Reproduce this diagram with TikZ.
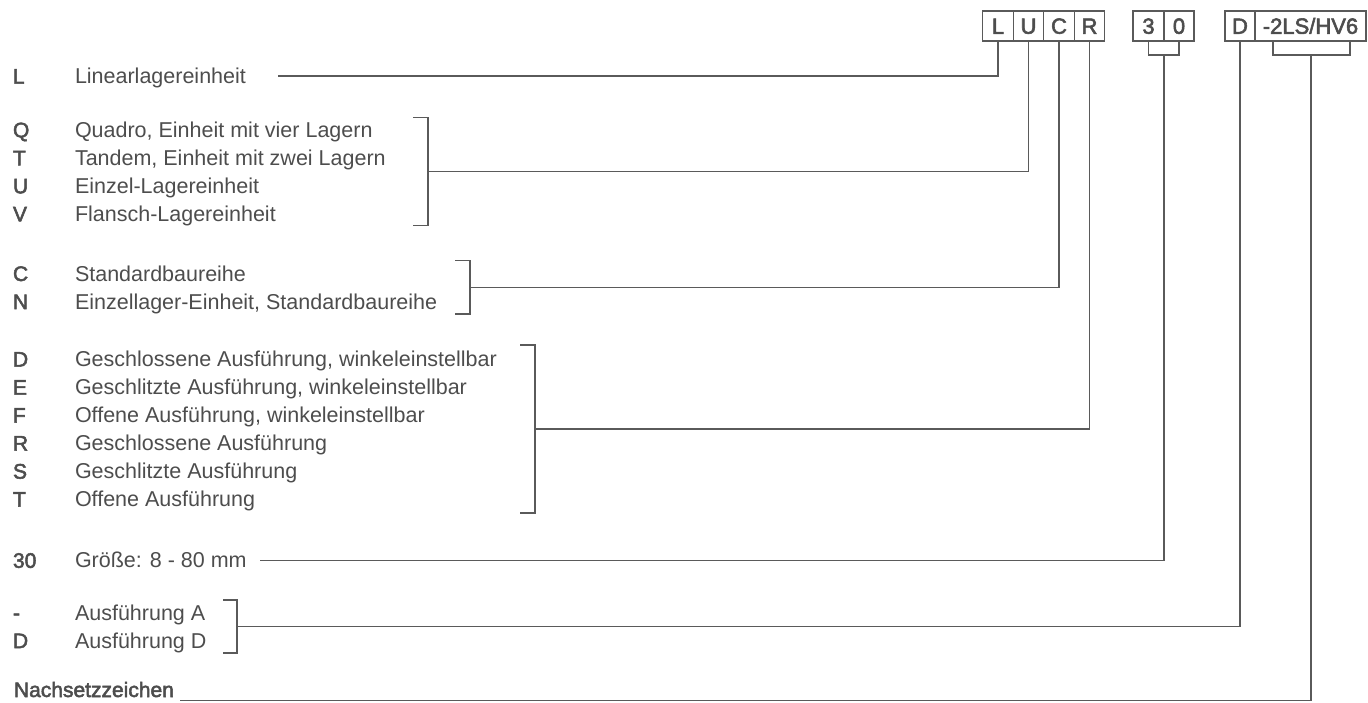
\documentclass[tikz,border=0pt]{standalone}
\usepackage{fontspec}
\setmainfont{Liberation Sans}
\newfontfamily\medfont{Liberation Sans}[FakeBold=2.5]
\usetikzlibrary{calc}
\definecolor{txt}{HTML}{4D4D4D}
\definecolor{ln}{HTML}{5A5A5A}
\begin{document}
\begin{tikzpicture}[x=1pt,y=-1pt,
  every node/.style={inner sep=0pt, outer sep=0pt, text=txt},
  code/.style={anchor=base west, font=\fontsize{21}{21}\selectfont\medfont},
  desc/.style={anchor=base west, font=\fontsize{21.5}{21.5}\selectfont},
  cell/.style={draw=ln, line width=1.3pt, minimum height=30pt, text height=15.5pt, text depth=0pt, font=\fontsize{22}{22}\selectfont\medfont},
  conn/.style={draw=ln, line width=1.5pt},
  brk/.style={draw=ln, line width=1.5pt}]
\useasboundingbox (0,0) rectangle (1368,702);

% ---- code boxes
\node[cell, minimum width=30.5pt] (cL) at (998,26) {L};
\node[cell, minimum width=30.5pt] (cU) at (1028.5,26) {U};
\node[cell, minimum width=30.5pt] (cC) at (1059,26) {C};
\node[cell, minimum width=30.5pt] (cR) at (1089.5,26) {R};
\node[cell, minimum width=31pt] (c3) at (1148.5,26) {3};
\node[cell, minimum width=30pt] (c0) at (1179,26) {0};
\node[cell, minimum width=30pt] (cD) at (1240,26) {D};
\node[cell, minimum width=111pt] (cX) at (1310.5,26) {-2LS/HV6};

% ---- left text
\node[code] (kL) at (13,83.6) {L};
\node[desc] (tL) at (75,83.6) {Linearlagereinheit};

\node[code] (kQ) at (13,137.3) {Q};
\node[desc] (tQ) at (75,137.3) {Quadro, Einheit mit vier Lagern};
\node[code] (kT) at (13,165.3) {T};
\node[desc] (tT) at (75,165.3) {Tandem, Einheit mit zwei Lagern};
\node[code] (kU) at (13,193.3) {U};
\node[desc] (tU) at (75,193.3) {Einzel-Lagereinheit};
\node[code] (kV) at (13,221.3) {V};
\node[desc] (tV) at (75,221.3) {Flansch-Lagereinheit};

\node[code] (kC) at (13,281) {C};
\node[desc] (tC) at (75,281) {Standardbaureihe};
\node[code] (kN) at (13,309) {N};
\node[desc] (tN) at (75,309) {Einzellager-Einheit, Standardbaureihe};

\node[code] (kD) at (13,366.6) {D};
\node[desc] (tD) at (75,366.6) {Geschlossene Ausführung, winkeleinstellbar};
\node[code] (kE) at (13,394.6) {E};
\node[desc] (tE) at (75,394.6) {Geschlitzte Ausführung, winkeleinstellbar};
\node[code] (kF) at (13,422.6) {F};
\node[desc] (tF) at (75,422.6) {Offene Ausführung, winkeleinstellbar};
\node[code] (kR) at (13,450.6) {R};
\node[desc] (tR) at (75,450.6) {Geschlossene Ausführung};
\node[code] (kS) at (13,478.6) {S};
\node[desc] (tS) at (75,478.6) {Geschlitzte Ausführung};
\node[code] (kT2) at (13,506.6) {T};
\node[desc] (tT2) at (75,506.6) {Offene Ausführung};

\node[code] (k30) at (13,567.8) {30};
\node[desc] (t30) at (75,567.8) {Größe: 8 - 80 mm};

\node[code] (kA) at (13,620.1) {-};
\node[desc] (tA) at (75,620.1) {Ausführung A};
\node[code] (kDD) at (13,648.1) {D};
\node[desc] (tDD) at (75,648.1) {Ausführung D};

\node[code] (kN2) at (14,697) {Nachsetzzeichen};

% ---- brackets
\draw[brk] (413,117.7) -- (428,117.7) -- (428,225.7) -- (413,225.7);
\draw[brk] (455,260.7) -- (470,260.7) -- (470,314) -- (455,314);
\draw[brk] (520,345) -- (535,345) -- (535,513) -- (520,513);
\draw[brk] (223,600) -- (237,600) -- (237,653) -- (223,653);
\draw[brk] (c3.south) -- ++(0,14) -| (c0.south);
\draw[brk] ([xshift=-37.5pt]cX.south) -- ++(0,14) -| ([xshift=39.5pt]cX.south);

% ---- connector end points
\coordinate (eL) at (278,76);
\coordinate (bQ) at (428,171.7);
\coordinate (bC) at (470,287.4);
\coordinate (bD) at (535,429);
\coordinate (m30) at (1164,55);
\coordinate (e30) at (260,560.7);
\coordinate (eD) at (237,626.5);
\coordinate (mX) at (1311,55);
\coordinate (eN) at (180,700.5);

% ---- connectors
\draw[conn] (cL.south) |- (eL);
\draw[conn] (cU.south) |- (bQ);
\draw[conn] (cC.south) |- (bC);
\draw[conn] (cR.south) |- (bD);
\draw[conn] (m30) |- (e30);
\draw[conn] (cD.south) |- (eD);
\draw[conn] (mX) |- (eN);
\end{tikzpicture}
\end{document}
